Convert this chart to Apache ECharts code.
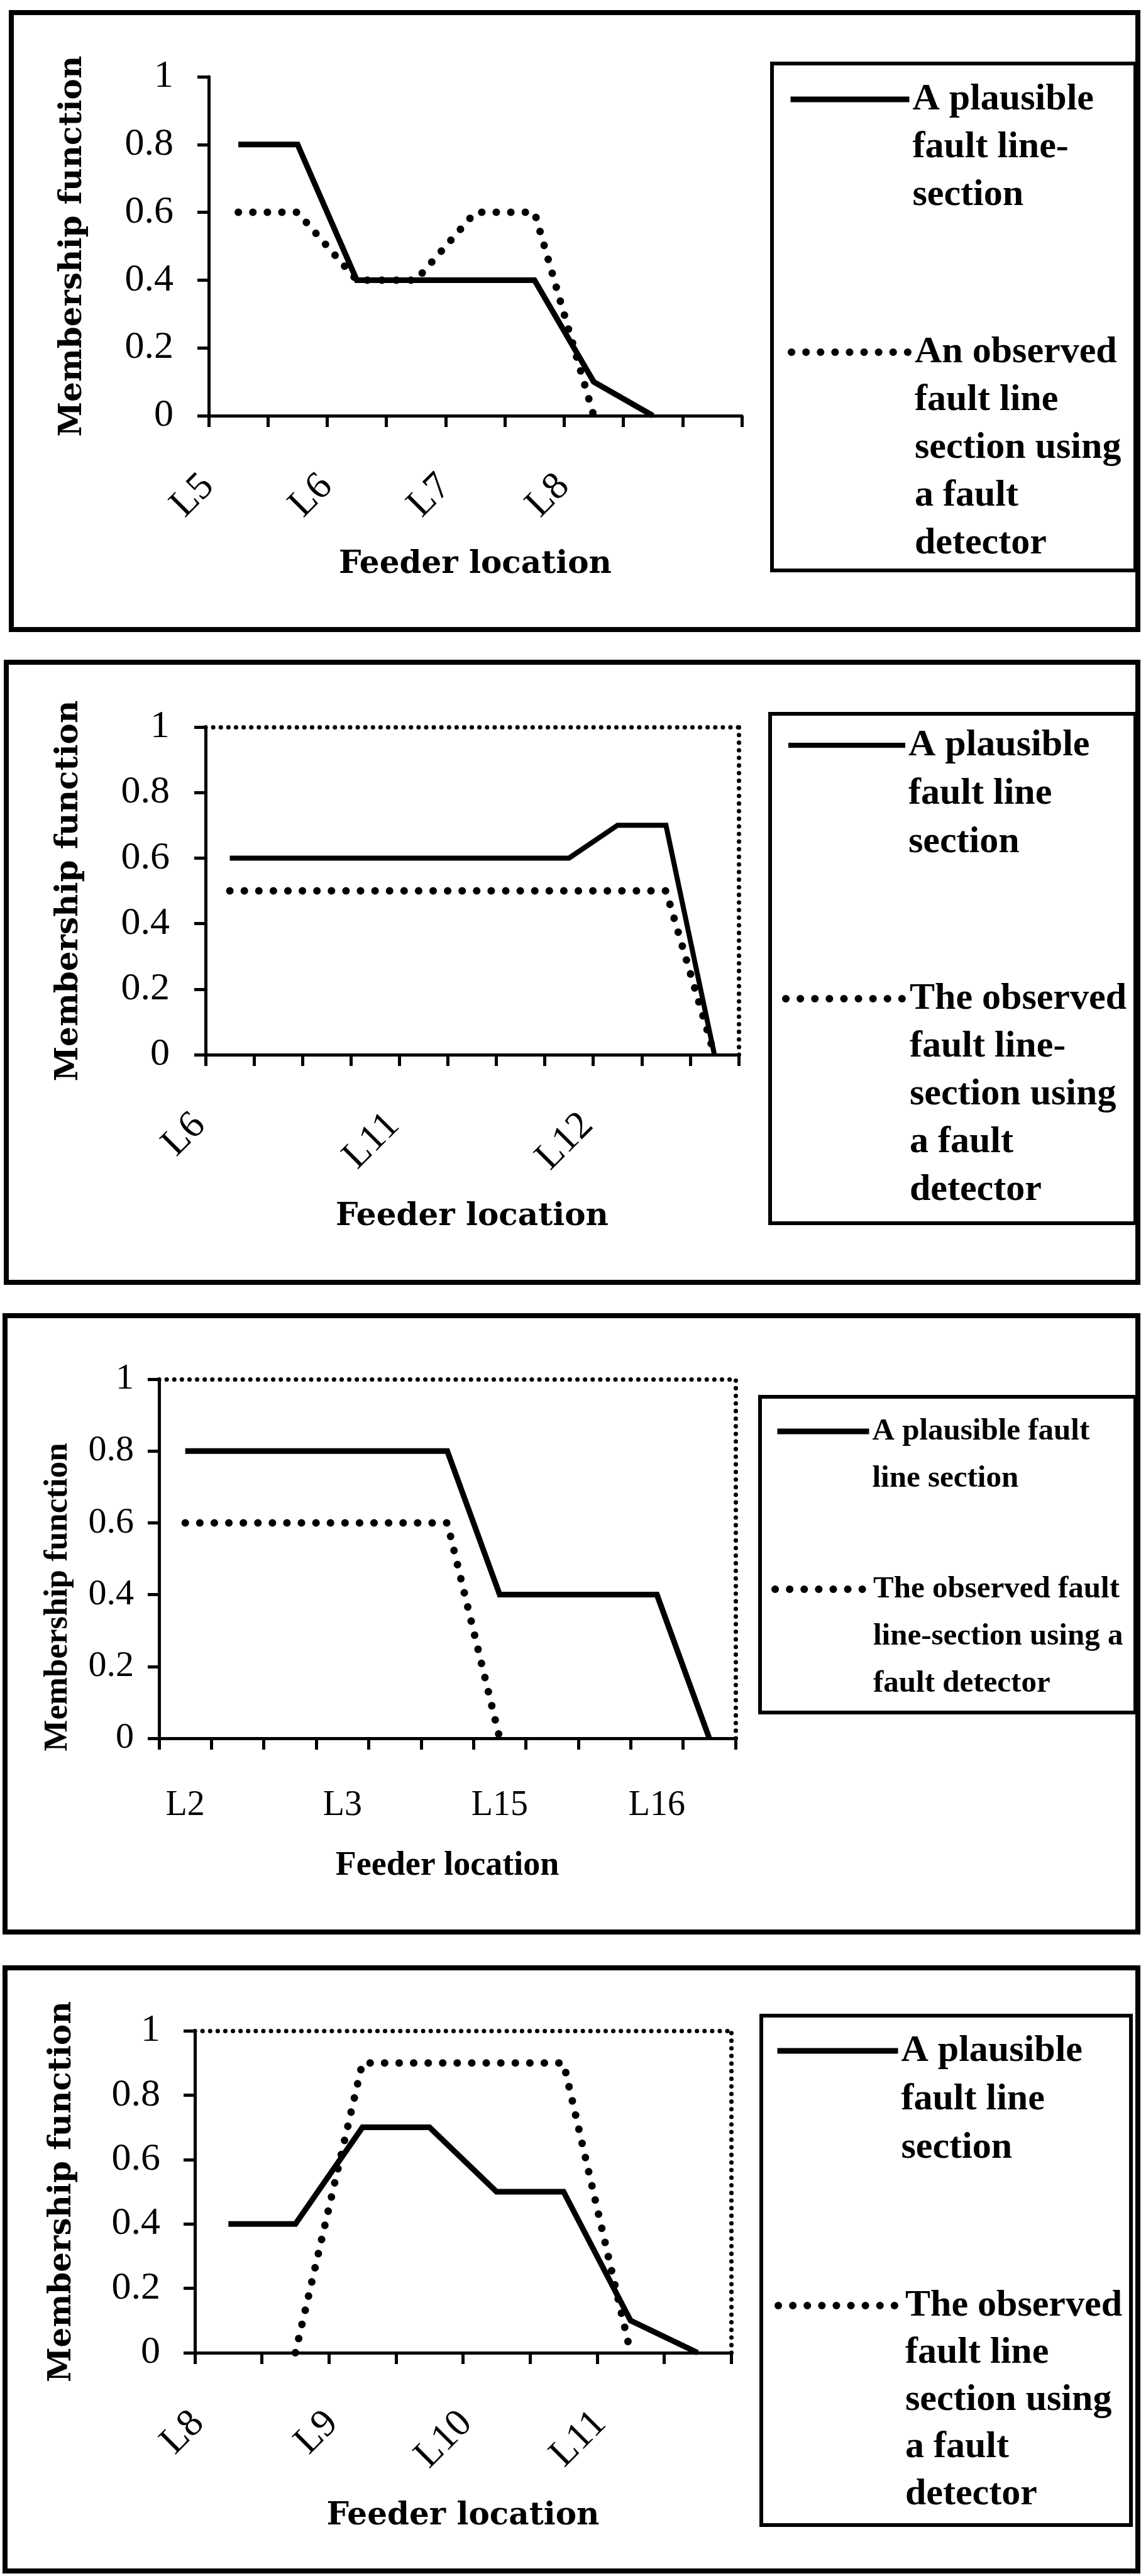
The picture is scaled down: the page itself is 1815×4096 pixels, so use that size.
<!DOCTYPE html>
<html>
<head>
<meta charset="utf-8">
<script src="https://cdn.jsdelivr.net/npm/echarts@6/dist/echarts.min.js"></script>
<style>
  html, body { margin: 0; padding: 0; background: #fff; }
  #chart { width: 1815px; height: 4096px; }
</style>
</head>
<body>
<div id="chart"></div>
<script>
// ---- data ----------------------------------------------------------------
// Feeder positions along each path; blank entries are unlabelled sections.
const catsA = ['L5', '', 'L6', '', 'L7', '', 'L8', '', ''];
const plausibleA = [0.8, 0.8, 0.4, 0.4, 0.4, 0.4, 0.1, 0, null];
const observedA = [0.6, 0.6, 0.4, 0.4, 0.6, 0.6, 0, null, null];

const catsB = ['L6', '', '', '', 'L11', '', '', '', 'L12', '', ''];
const plausibleB = [0.6, 0.6, 0.6, 0.6, 0.6, 0.6, 0.6, 0.6, 0.7, 0.7, 0];
const observedB = [0.5, 0.5, 0.5, 0.5, 0.5, 0.5, 0.5, 0.5, 0.5, 0.5, 0];

const catsC = ['L2', '', '', 'L3', '', '', 'L15', '', '', 'L16', ''];
const plausibleC = [0.8, 0.8, 0.8, 0.8, 0.8, 0.8, 0.4, 0.4, 0.4, 0.4, 0];
const observedC = [0.6, 0.6, 0.6, 0.6, 0.6, 0.6, 0, null, null, null, null];

const catsD = ['L8', '', 'L9', '', 'L10', '', 'L11', ''];
const plausibleD = [0.4, 0.4, 0.7, 0.7, 0.5, 0.5, 0.1, 0];
const observedD = [null, 0, 0.9, 0.9, 0.9, 0.9, 0, null];

// membership axis ticks
const yTicks = [0, 0.2, 0.4, 0.6, 0.8, 1];

// legend entries (solid, dotted) for each panel
const namesA = ['A plausible\nfault line-\nsection', 'An observed\nfault line\nsection using\na fault\ndetector'];
const namesB = ['A plausible\nfault line\nsection', 'The observed\nfault line-\nsection using\na fault\ndetector'];
const namesC = ['A plausible fault\nline section', 'The observed fault\nline-section using a\nfault detector'];
const namesD = ['A plausible\nfault line\nsection', 'The observed\nfault line\nsection using\na fault\ndetector'];

const xTitle = 'Feeder location';
const yTitle = 'Membership function';

// ---- layout ----------------------------------------------------------------
const SERIF = "'Liberation Serif', 'Times New Roman', serif";
const WIDE = "'DejaVu Serif', serif";

// slanted category labels: the text is pushed back along its own direction
const slanted = {
  rotate: 45, margin: 55, fontFamily: SERIF, fontSize: 62,
  formatter: v => (v ? '{t|' + v + '}' : ''),
  rich: { t: { fontFamily: SERIF, fontSize: 62, color: '#000', padding: [0, 68, 0, 0] } }
};

const panels = [
  {
    cats: catsA, solid: plausibleA, dotted: observedA, names: namesA,
    grid: { left: 332, top: 122, width: 848, height: 539 },
    border: false, solidWidth: 9,
    frame: [18, 20, 1810, 1001], box: [1228, 101, 1806, 907],
    xLabel: slanted,
    yLabel: { margin: 56, fontSize: 62 },
    titleFont: WIDE, titleSize: 50, yGap: 191, yPad: [0, 0, 0, 0], xGap: 212,
    legendFont: 60,
    legends: [
      { left: 1253, y: 158, w: 189, lh: 76 },
      { left: 1253, y: 560, w: 191, lh: 76 }
    ]
  },
  {
    cats: catsB, solid: plausibleB, dotted: observedB, names: namesB,
    grid: { left: 327, top: 1156, width: 848, height: 521 },
    border: true, solidWidth: 8,
    frame: [10, 1053, 1810, 2039], box: [1225, 1135, 1806, 1945],
    xLabel: slanted,
    yLabel: { margin: 57, fontSize: 62 },
    titleFont: WIDE, titleSize: 50, yGap: 192, yPad: [0, 0, 0, 0], xGap: 233,
    legendFont: 60,
    legends: [
      { left: 1250, y: 1185, w: 186, lh: 77 },
      { left: 1244, y: 1588, w: 192, lh: 76 }
    ]
  },
  {
    cats: catsC, solid: plausibleC, dotted: observedC, names: namesC,
    grid: { left: 253, top: 2193, width: 917, height: 571 },
    border: true, solidWidth: 9,
    frame: [8, 2092, 1810, 3072], box: [1209, 2221, 1806, 2723],
    xLabel: { rotate: 0, margin: 79, fontFamily: SERIF, fontSize: 56, lineHeight: 56 },
    yLabel: { margin: 40, fontSize: 58 },
    titleFont: SERIF, titleSize: 53, yGap: 134, yPad: [0, 122, 0, 0], xGap: 177,
    legendFont: 49,
    legends: [
      { left: 1232, y: 2276, w: 146, lh: 75 },
      { left: 1227, y: 2527, w: 151, lh: 75 }
    ]
  },
  {
    cats: catsD, solid: plausibleD, dotted: observedD, names: namesD,
    grid: { left: 310, top: 3229, width: 853, height: 512 },
    border: true, solidWidth: 9,
    frame: [8, 3129, 1810, 4088], box: [1211, 3205, 1799, 4015],
    xLabel: slanted,
    yLabel: { margin: 55, fontSize: 62 },
    titleFont: WIDE, titleSize: 50, yGap: 186, yPad: [0, 0, 0, 0], xGap: 235,
    legendFont: 60,
    legends: [
      { left: 1232, y: 3261, w: 192, lh: 77 },
      { left: 1232, y: 3666, w: 197, lh: 75 }
    ]
  }
];

const DOT = [0.1, 23];        // round-dot pattern of the observed curves
const BORDER_DOT = [0.1, 12]; // finer dots on the plot-area edge

const grid = [], xAxis = [], yAxis = [], series = [], legend = [], graphic = [];

panels.forEach((p, i) => {
  grid.push(Object.assign({ containLabel: false, outerBoundsMode: 'none', show: false }, p.grid));

  const xi = xAxis.length;
  xAxis.push({
    type: 'category', gridIndex: i, data: p.cats, boundaryGap: true, position: 'bottom',
    axisLine: { show: true, onZero: true, lineStyle: { color: '#000', width: 5 } },
    axisTick: { show: true, interval: 0, alignWithLabel: false, length: 18, lineStyle: { color: '#000', width: 5 } },
    axisLabel: Object.assign({ interval: 0, color: '#000', hideOverlap: false }, p.xLabel),
    splitLine: { show: false },
    name: xTitle, nameLocation: 'middle', nameGap: p.xGap, nameMoveOverlap: false,
    nameTextStyle: { fontFamily: p.titleFont, fontWeight: 'bold', fontSize: p.titleSize + (i === 2 ? 1 : 0), lineHeight: p.titleSize, color: '#000' }
  });

  const yi = yAxis.length;
  yAxis.push({
    type: 'value', gridIndex: i, position: 'left',
    min: yTicks[0], max: yTicks[yTicks.length - 1], interval: yTicks[1] - yTicks[0],
    axisLine: { show: true, onZero: false, lineStyle: { color: '#000', width: 5 } },
    axisTick: { show: true, length: 18, lineStyle: { color: '#000', width: 5 } },
    axisLabel: { color: '#000', fontFamily: SERIF, fontSize: p.yLabel.fontSize, margin: p.yLabel.margin },
    splitLine: { show: false },
    name: yTitle, nameLocation: 'middle', nameRotate: 90, nameGap: p.yGap, nameMoveOverlap: false,
    nameTextStyle: { fontFamily: p.titleFont, fontWeight: 'bold', fontSize: p.titleSize, lineHeight: p.titleSize, color: '#000', padding: p.yPad }
  });

  if (p.border) {
    // dotted top and right edges of the plot area
    xAxis.push({
      type: 'value', gridIndex: i, position: 'top', min: 0, max: 1,
      axisLine: { show: true, onZero: false, lineStyle: { color: '#000', width: 7, type: BORDER_DOT, cap: 'round' } },
      axisTick: { show: false }, axisLabel: { show: false }, splitLine: { show: false }
    });
    yAxis.push({
      type: 'value', gridIndex: i, position: 'right', min: 0, max: 1,
      axisLine: { show: true, onZero: false, lineStyle: { color: '#000', width: 7, type: BORDER_DOT, cap: 'round' } },
      axisTick: { show: false }, axisLabel: { show: false }, splitLine: { show: false }
    });
  }

  series.push({
    type: 'line', name: p.names[0], xAxisIndex: xi, yAxisIndex: yi, data: p.solid,
    symbol: 'none', clip: false, connectNulls: false, silent: true, z: 3,
    lineStyle: { color: '#000', width: p.solidWidth, type: 'solid', join: 'miter' }
  });
  series.push({
    type: 'line', name: p.names[1], xAxisIndex: xi, yAxisIndex: yi, data: p.dotted,
    symbol: 'none', clip: false, connectNulls: false, silent: true, z: 2,
    lineStyle: { color: '#000', width: 12, type: DOT, cap: 'round' }
  });

  p.legends.forEach((lg, k) => {
    // the marker sits beside the first line of a multi-line entry:
    // top padding of (n-1) lines centres that first line on the marker
    const n = p.names[k].split('\n').length;
    const lineStyleText = { fontFamily: SERIF, fontWeight: 'bold', fontSize: p.legendFont, color: '#000', lineHeight: lg.lh };
    legend.push({
      data: [{ name: p.names[k] }],
      left: lg.left, top: lg.y - (2 * n - 1) * lg.lh / 2,
      orient: 'vertical', padding: 0, itemGap: 0,
      itemWidth: lg.w, itemHeight: 14, selectedMode: false,
      itemStyle: { opacity: 0 },
      lineStyle: k === 0
        ? { color: '#000', width: p.solidWidth, type: 'solid', opacity: 1 }
        : { color: '#000', width: 12, type: DOT, cap: 'round', opacity: 1 },
      formatter: name => name.split('\n').map(s => '{a|' + s + '}').join('\n'),
      textStyle: Object.assign({}, lineStyleText, {
        padding: [(n - 1) * lg.lh, 0, 0, 0],
        rich: { a: lineStyleText }
      })
    });
  });

  const f = p.frame, b = p.box;
  graphic.push({
    type: 'rect', silent: true, z: 0,
    shape: { x: f[0], y: f[1], width: f[2] - f[0], height: f[3] - f[1] },
    style: { fill: 'none', stroke: '#000', lineWidth: 8 }
  });
  graphic.push({
    type: 'rect', silent: true, z: 0,
    shape: { x: b[0], y: b[1], width: b[2] - b[0], height: b[3] - b[1] },
    style: { fill: 'none', stroke: '#000', lineWidth: 6 }
  });
});

const chart = echarts.init(document.getElementById('chart'), null, { renderer: 'canvas', width: 1815, height: 4096 });
chart.setOption({
  backgroundColor: '#fff',
  animation: false,
  tooltip: { show: false },
  grid, xAxis, yAxis, series, legend, graphic
});
</script>
</body>
</html>
